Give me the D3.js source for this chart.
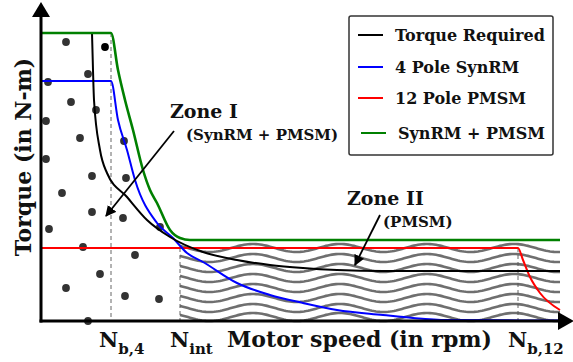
<!DOCTYPE html>
<html lang="en">
<head>
  <meta charset="UTF-8">
  <title>Torque vs speed zones</title>
  <script src="https://d3js.org/d3.v7.min.js"></script>
  <style>
    body { margin: 0; background: #fff; }
    text { font-family: "DejaVu Serif", serif; font-weight: bold; fill: #111; }
  </style>
</head>
<body>

<svg id="chart" width="573" height="362"></svg>

<script>
  // curves: [speed, torque] in arbitrary units
  var torqueRequired = [[51,288],[52,251],[53,221],[59,171],[66,148],[86,124],[106,101],[129,84],[162,69],[196,61],[229,56],[262,53],[296,51],[342,50],[519,50]];
  var synrm4 = [[0,240],[70,240],[77,201],[86,171],[94,141],[116,98],[132,83],[146,68],[162,59],[196,38],[229,26],[262,18],[296,11],[342,6],[372,3],[406,1],[519,0.5]];
  var pmsm12 = [[0,73],[477,73],[482,61],[489,44],[499,28],[519,11]];
  var combined = [[0,288],[70,288],[77,251],[84,221],[92,191],[102,151],[109,131],[116,118],[129,91],[139,83],[149,81],[519,81]];

  // base speeds
  var speedMarks = [
    { name: 'b,4', speed: 70, top: 288 },
    { name: 'int', speed: 139, top: 73 },
    { name: 'b,12', speed: 477, top: 73 }
  ];

  // zone I dots
  var dots = [[25,279],[64,274],[47,247],[7,239],[30,219],[55,211],[5,200],[39,183],[83,180],[5,162],[51,145],[85,143],[21,128],[51,109],[82,103],[8,92],[42,74],[94,66],[59,47],[25,33],[84,25],[118,22],[119,94],[47,0]];

  // zone II wave rows (torque levels)
  var waveLevels = [73,63,53,43,33,23,13,4];

  var legendNames = ['Torque Required', '4 Pole SynRM', '12 Pole PMSM', 'SynRM + PMSM'];
  var legendColors = ['#000', '#0000ff', '#ff0000', '#008000'];

  var svg = d3.select('#chart');
  var x = d3.scaleLinear().domain([0, 519]).range([41, 560]);
  var y = d3.scaleLinear().domain([0, 318]).range([321, 3]);

  // dots
  svg.append('g').selectAll('circle')
    .data(dots)
    .enter()
    .append('circle')
    .attr('cx', function (d) { return x(d[0]); })
    .attr('cy', function (d) { return y(d[1]); })
    .attr('r', 3.9)
    .attr('fill', function (d, i) { return i === 1 ? '#000' : '#333'; });

  // wavy hatching of zone II
  var waveLine = d3.line().x(function (d) { return x(d[0]); }).y(function (d) { return y(d[1]); });
  svg.append('g').selectAll('path')
    .data(waveLevels)
    .enter()
    .append('path')
    .attr('d', function (lvl) {
      var pts = [];
      for (var s = 139; s <= 519; s += 2) {
        pts.push([s, lvl + 4 * Math.cos(2 * Math.PI * (s - 212) / 87)]);
      }
      return waveLine(pts);
    })
    .attr('fill', 'none')
    .attr('stroke', '#6f6f6f')
    .attr('stroke-width', 2.6);

  // dashed guides
  svg.append('g').selectAll('line')
    .data(speedMarks)
    .enter()
    .append('line')
    .attr('x1', function (d) { return x(d.speed); })
    .attr('x2', function (d) { return x(d.speed); })
    .attr('y1', function (d) { return y(d.top); })
    .attr('y2', y(0))
    .attr('stroke', '#555')
    .attr('stroke-width', 0.9)
    .attr('stroke-dasharray', '4,3');

  // curves
  var line = d3.line()
    .x(function (d) { return x(d[0]); })
    .y(function (d) { return y(d[1]); })
    .curve(d3.curveMonotoneX);

  var series = [
    { data: pmsm12, color: '#ff0000', w: 2 },
    { data: synrm4, color: '#0000ff', w: 2 },
    { data: torqueRequired, color: '#000', w: 2 },
    { data: combined, color: '#008000', w: 2.6 }
  ];
  svg.append('g').selectAll('path')
    .data(series)
    .enter()
    .append('path')
    .attr('d', function (d) { return line(d.data); })
    .attr('fill', 'none')
    .attr('stroke', function (d) { return d.color; })
    .attr('stroke-width', function (d) { return d.w; });

  // axes with arrows
  svg.append('line').attr('x1', x(0)).attr('x2', x(0)).attr('y1', y(0) + 1.5).attr('y2', 16)
    .attr('stroke', '#000').attr('stroke-width', 3);
  svg.append('path').attr('d', 'M' + (x(0) - 9) + ',17L' + x(0) + ',2L' + (x(0) + 9) + ',17Z').attr('fill', '#000');
  svg.append('line').attr('x1', x(0) - 1.5).attr('x2', 560).attr('y1', y(0)).attr('y2', y(0))
    .attr('stroke', '#000').attr('stroke-width', 3);
  svg.append('path').attr('d', 'M558,' + (y(0) - 9) + 'L574,' + y(0) + 'L558,' + (y(0) + 9) + 'Z').attr('fill', '#000');

  // axis titles
  svg.append('text')
    .attr('transform', 'translate(31,157) rotate(-90)')
    .attr('text-anchor', 'middle')
    .style('font-size', '22px')
    .text('Torque (in N-m)');
  svg.append('text')
    .attr('x', 227).attr('y', 347)
    .style('font-size', '22px')
    .text('Motor speed (in rpm)');

  // speed labels N_sub
  var subX = [99, 170, 508];
  speedMarks.forEach(function (m, i) {
    var t = svg.append('text').attr('x', subX[i]).attr('y', 347).style('font-size', '21px');
    t.append('tspan').text('N');
    t.append('tspan').attr('dy', 7).style('font-size', '15px').text(m.name);
  });

  // zone annotations
  var defs = svg.append('defs');
  defs.append('marker')
    .attr('id', 'arr').attr('viewBox', '0 0 10 10').attr('refX', 9).attr('refY', 5)
    .attr('markerWidth', 6).attr('markerHeight', 6).attr('orient', 'auto')
    .append('path').attr('d', 'M0,0L10,5L0,10Z').attr('fill', '#000');

  svg.append('text').attr('x', 170).attr('y', 118).style('font-size', '19px').text('Zone I');
  svg.append('text').attr('x', 186).attr('y', 140).style('font-size', '15px').text('(SynRM + PMSM)');
  svg.append('line').attr('x1', 174).attr('y1', 131).attr('x2', 106).attr('y2', 216)
    .attr('stroke', '#000').attr('stroke-width', 1.8).attr('marker-end', 'url(#arr)');

  svg.append('text').attr('x', 347).attr('y', 205).style('font-size', '19px').text('Zone II');
  svg.append('text').attr('x', 383).attr('y', 227).style('font-size', '15px').text('(PMSM)');
  svg.append('line').attr('x1', 380).attr('y1', 215).attr('x2', 355).attr('y2', 265)
    .attr('stroke', '#000').attr('stroke-width', 1.8).attr('marker-end', 'url(#arr)');

  // legend
  var legend = svg.append('g');
  legend.append('rect').attr('x', 349).attr('y', 16).attr('width', 204).attr('height', 139)
    .attr('rx', 2).attr('fill', '#fff').attr('stroke', '#333').attr('stroke-width', 1.5);
  var rowY = [35, 67, 98, 133];
  var indent = [0, 0, 0, 3];
  legendNames.forEach(function (name, i) {
    legend.append('line')
      .attr('x1', 358 + indent[i]).attr('x2', 383 + indent[i])
      .attr('y1', rowY[i]).attr('y2', rowY[i])
      .attr('stroke', legendColors[i]).attr('stroke-width', 2);
    legend.append('text')
      .attr('x', 395 + indent[i]).attr('y', rowY[i] + 6)
      .style('font-size', '16px')
      .text(name);
  });
</script>

</body>
</html>
